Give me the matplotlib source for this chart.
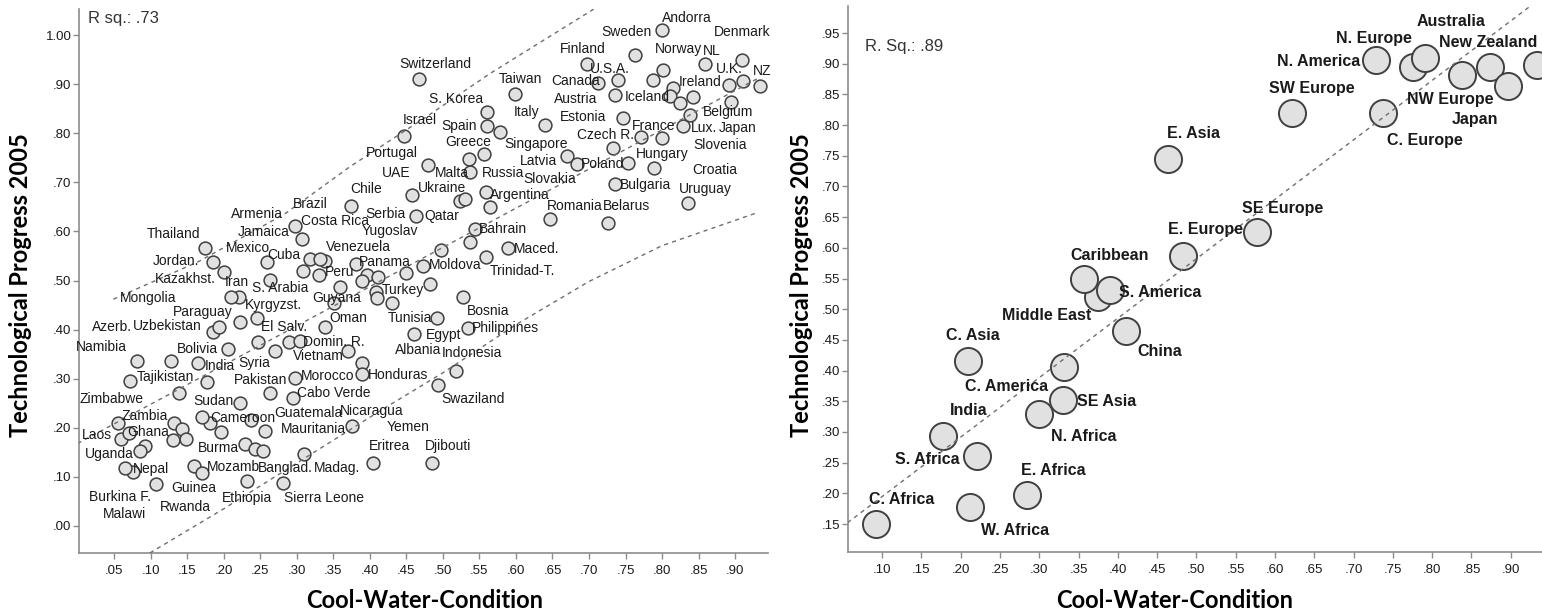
import matplotlib
matplotlib.use("Agg")
import matplotlib.pyplot as plt
from matplotlib.ticker import MultipleLocator, FuncFormatter

# ---- left panel: countries -------------------------------------------------
countries = ['Andorra', 'Sweden', 'Denmark', 'Finland', 'NL', 'Norway', 'U.S.A.', 'U.K.', 'NZ',
             'Canada', 'Taiwan', 'Ireland', 'Austria', 'Iceland', 'Italy', 'Estonia', 'Belgium',
             'Lux.', 'Japan', 'France', 'Czech R.', 'Slovenia', 'Hungary', 'Croatia', 'Latvia',
             'Poland', 'Slovakia', 'Bulgaria', 'Uruguay', 'Switzerland', 'S. Korea', 'Israel',
             'Spain', 'Singapore', 'Greece', 'Portugal', 'Malta', 'Russia', 'UAE', 'Ukraine',
             'Argentina', 'Chile', 'Romania', 'Belarus', 'Qatar', 'Serbia', 'Bahrain', 'Maced.',
             'Moldova', 'Trinidad-T.', 'Turkey', 'Yugoslav', 'Bosnia', 'Tunisia', 'Philippines',
             'Egypt', 'Albania', 'Indonesia', 'Swaziland', 'Brazil', 'Costa Rica', 'Jamaica',
             'Armenia', 'Venezuela', 'Cuba', 'Mexico', 'Panama', 'Peru', 'Thailand', 'Jordan.',
             'Kazakhst.', 'S. Arabia', 'Iran', 'Mongolia', 'Guyana', 'Kyrgyzst.', 'Paraguay',
             'Uzbekistan', 'Azerb.', 'Oman', 'El Salv.', 'Domin. R.', 'Namibia', 'Bolivia', 'India',
             'Syria', 'Vietnam', 'Tajikistan', 'Pakistan', 'Morocco', 'Honduras', 'Sudan',
             'Cabo Verde', 'Zimbabwe', 'Zambia', 'Laos', 'Ghana', 'Uganda', 'Malawi', 'Nepal',
             'Burkina F.', 'Rwanda', 'Guinea', 'Mozamb', 'Burma', 'Cameroon', 'Guatemala',
             'Mauritania', 'Nicaragua', 'Yemen', 'Eritrea', 'Djibouti', 'Banglad.', 'Madag.',
             'Ethiopia', 'Sierra Leone']
cool_water = [0.800, 0.763, 0.909, 0.697, 0.859, 0.801, 0.740, 0.891, 0.934,
              0.713, 0.599, 0.815, 0.736, 0.811, 0.640, 0.746, 0.895,
              0.829, 0.825, 0.771, 0.733, 0.838, 0.800, 0.789, 0.670,
              0.753, 0.683, 0.735, 0.835, 0.468, 0.561, 0.447,
              0.561, 0.578, 0.556, 0.479, 0.536, 0.537, 0.458, 0.524,
              0.559, 0.374, 0.647, 0.726, 0.530, 0.463, 0.544, 0.589,
              0.473, 0.559, 0.482, 0.497, 0.527, 0.492, 0.535,
              0.461, 0.430, 0.518, 0.494, 0.318, 0.298, 0.307,
              0.308, 0.339, 0.332, 0.259, 0.381, 0.331, 0.175, 0.185,
              0.201, 0.263, 0.221, 0.210, 0.359, 0.245, 0.222,
              0.186, 0.193, 0.339, 0.289, 0.305, 0.081, 0.206, 0.165,
              0.270, 0.370, 0.072, 0.298, 0.390, 0.390, 0.222,
              0.295, 0.056, 0.132, 0.060, 0.070, 0.092, 0.086, 0.076,
              0.065, 0.108, 0.160, 0.171, 0.229, 0.181, 0.238,
              0.257, 0.375, 0.243, 0.404, 0.485, 0.254, 0.310,
              0.232, 0.281]
tech_progress = [1.010, 0.959, 0.949, 0.941, 0.941, 0.929, 0.908, 0.898, 0.896,
                 0.903, 0.879, 0.893, 0.878, 0.876, 0.817, 0.830, 0.864,
                 0.815, 0.862, 0.792, 0.770, 0.837, 0.790, 0.730, 0.754,
                 0.739, 0.737, 0.697, 0.658, 0.910, 0.843, 0.794,
                 0.815, 0.802, 0.758, 0.735, 0.747, 0.720, 0.674, 0.661,
                 0.681, 0.652, 0.625, 0.618, 0.665, 0.632, 0.605, 0.566,
                 0.530, 0.548, 0.492, 0.562, 0.467, 0.423, 0.403,
                 0.391, 0.454, 0.316, 0.287, 0.543, 0.611, 0.584,
                 0.519, 0.540, 0.543, 0.537, 0.533, 0.511, 0.566, 0.538,
                 0.518, 0.501, 0.466, 0.466, 0.487, 0.423, 0.415,
                 0.395, 0.405, 0.405, 0.374, 0.377, 0.337, 0.360, 0.333,
                 0.356, 0.357, 0.295, 0.301, 0.333, 0.310, 0.250,
                 0.260, 0.209, 0.210, 0.177, 0.189, 0.163, 0.153, 0.109,
                 0.119, 0.085, 0.122, 0.107, 0.168, 0.209, 0.216,
                 0.194, 0.204, 0.156, 0.129, 0.129, 0.153, 0.147,
                 0.092, 0.087]

# countries whose label is not legible in the chart
unlabeled_x = [0.788, 0.843, 0.911, 0.565, 0.537, 0.450, 0.396, 0.411, 0.389, 0.409,
               0.410, 0.351, 0.247, 0.128, 0.177, 0.139, 0.263, 0.143, 0.130, 0.149,
               0.171, 0.196]
unlabeled_y = [0.908, 0.874, 0.907, 0.650, 0.579, 0.515, 0.511, 0.507, 0.498, 0.477,
               0.465, 0.454, 0.374, 0.337, 0.294, 0.270, 0.270, 0.197, 0.175, 0.177,
               0.223, 0.191]

# fit line and prediction bounds
fit_x = [0.0, 0.934]
fit_y = [0.168, 0.914]
upper_x = [0.049, 0.165, 0.284, 0.373, 0.478, 0.565, 0.711]
upper_y = [0.462, 0.538, 0.636, 0.732, 0.834, 0.922, 1.057]
lower_x = [0.099, 0.20, 0.30, 0.42, 0.50, 0.60, 0.70, 0.80, 0.93]
lower_y = [-0.055, 0.035, 0.128, 0.240, 0.312, 0.410, 0.498, 0.571, 0.638]

# ---- right panel: regions ---------------------------------------------------
regions = ['C. Africa', 'W. Africa', 'E. Africa', 'S. Africa', 'India', 'N. Africa', 'SE Asia',
           'C. America', 'C. Asia', 'China', 'Middle East', 'Caribbean', 'S. America',
           'E. Europe', 'SE Europe', 'E. Asia', 'SW Europe', 'C. Europe', 'N. America',
           'N. Europe', 'Australia', 'NW Europe', 'New Zealand', 'Japan', '']
region_cw = [0.092, 0.212, 0.285, 0.221, 0.177, 0.300, 0.330,
             0.331, 0.210, 0.411, 0.375, 0.357, 0.390,
             0.483, 0.577, 0.464, 0.621, 0.738, 0.728,
             0.776, 0.791, 0.838, 0.874, 0.897, 0.933]
region_tp = [0.150, 0.177, 0.197, 0.260, 0.294, 0.330, 0.352,
             0.406, 0.416, 0.465, 0.520, 0.550, 0.531,
             0.587, 0.625, 0.744, 0.820, 0.819, 0.906,
             0.895, 0.909, 0.882, 0.894, 0.864, 0.898]
reg_x = [0.056, 0.924]
reg_y = [0.152, 0.993]

# label placement (pixel offsets from the marker, y up)
label_offsets = {
    'Andorra': (25, 11.7), 'Sweden': (-8.3, 22.7), 'Denmark': (0, 27.7), 'Finland': (-4, 15),
    'NL': (6.7, 13), 'Norway': (15.6, 21), 'U.S.A.': (-8.3, 10.7), 'U.K.': (1, 15.7),
    'NZ': (1.7, 15), 'Canada': (-23.3, 2), 'Taiwan': (5, 15), 'Ireland': (26.7, 5.6),
    'Austria': (-40, -4), 'Iceland': (-23.3, -0.7), 'Italy': (-18.3, 13.3),
    'Estonia': (-40, 1.6), 'Belgium': (-3.4, -10), 'Lux.': (20.7, -2), 'Japan': (57.5, -25),
    'France': (12.3, 11.6), 'Czech R.': (-7.3, 12.7), 'Slovenia': (30, -30.3),
    'Hungary': (0, -16), 'Croatia': (61, -2.3), 'Latvia': (-28.4, -4.7),
    'Poland': (-25.6, -0.7), 'Slovakia': (-26.7, -15), 'Bulgaria': (30.7, -1.7),
    'Uruguay': (17.7, 13.7), 'Switzerland': (15.7, 15.3), 'S. Korea': (-31.3, 13.3),
    'Israel': (16, 16), 'Spain': (-28.3, 0), 'Singapore': (36.7, -12), 'Greece': (-15.7, 12.3),
    'Portugal': (-35.7, 12), 'Malta': (-17.6, -13.4), 'Russia': (32.7, -0.6),
    'UAE': (-15.6, 21.7), 'Ukraine': (-18.3, 13.4), 'Argentina': (34, -3.3),
    'Chile': (15.7, 17), 'Romania': (24.2, 13.6), 'Belarus': (18.1, 17),
    'Qatar': (-23.3, -16.4), 'Serbia': (-30, 1.7), 'Bahrain': (27.7, 0), 'Maced.': (29, -0.7),
    'Moldova': (31.7, 0.3), 'Trinidad-T.': (36.7, -14), 'Turkey': (-26.7, -5.7),
    'Yugoslav': (-50.7, 19), 'Bosnia': (25.6, -14), 'Tunisia': (-27.4, 0),
    'Philippines': (36.7, 0), 'Egypt': (29, -1), 'Albania': (26.6, -47.4),
    'Indonesia': (15.7, 17.4), 'Swaziland': (35, -14.3), 'Brazil': (0, 55.3),
    'Costa Rica': (40, 5), 'Jamaica': (-38.4, 7.6), 'Armenia': (-46, 57),
    'Venezuela': (33.3, 14.3), 'Cuba': (-36.7, 4.3), 'Mexico': (-18.4, 14), 'Panama': (29, 2.3),
    'Peru': (20.7, 3.3), 'Thailand': (-31.7, 14), 'Jordan.': (-36.7, 1),
    'Kazakhst.': (-39.3, -7.3), 'S. Arabia': (10, -8.3), 'Iran': (-2, 15.6),
    'Mongolia': (-82.7, -0.4), 'Guyana': (-3.3, -11), 'Kyrgyzst.': (16.6, 13.3),
    'Paraguay': (-36.7, 10), 'Uzbekistan': (-46.3, 5.6), 'Azerb.': (-106.3, 0.6),
    'Oman': (23.3, 9), 'El Salv.': (-5, 15.6), 'Domin. R.': (33.3, -0.7),
    'Namibia': (-35, 14), 'Bolivia': (-31, 0), 'India': (21.7, -3), 'Syria': (-21, -11.3),
    'Vietnam': (-29.4, -5), 'Tajikistan': (35, 4.3), 'Pakistan': (-35, -1.7),
    'Morocco': (-34.4, -13.4), 'Honduras': (35.3, -1.7), 'Sudan': (-26.7, 2.3),
    'Cabo Verde': (40.6, 5), 'Zimbabwe': (-6.6, 24), 'Zambia': (-29, 7), 'Laos': (-24, 3.6),
    'Ghana': (20, 1), 'Uganda': (-35.7, -8), 'Malawi': (-16, -63.6), 'Nepal': (18.4, 3),
    'Burkina F.': (-5, -29), 'Rwanda': (29.3, -22.4), 'Guinea': (-0.3, -22.3),
    'Mozamb': (31, 6), 'Burma': (-26.7, -4), 'Cameroon': (33.3, 5), 'Guatemala': (56.6, 6.7),
    'Mauritania': (48.3, 1.4), 'Nicaragua': (20.3, 15), 'Yemen': (153.3, 22.6),
    'Eritrea': (16.3, 16.7), 'Djibouti': (16.6, 16.7), 'Banglad.': (21.7, -17.6),
    'Madag.': (32.7, -14.3), 'Ethiopia': (0, -17.3), 'Sierra Leone': (41.3, -15),
}
region_offsets = {
    'C. Africa': (25.7, 25), 'W. Africa': (45, -22.7), 'E. Africa': (26.3, 25),
    'S. Africa': (-49.6, -3.3), 'India': (26, 24.7), 'N. Africa': (44.7, -22.7),
    'SE Asia': (44, -1.7), 'C. America': (-57.3, -19.3), 'C. Asia': (4.4, 25),
    'China': (33.3, -21), 'Middle East': (-51.6, -18.3), 'Caribbean': (26, 23.3),
    'S. America': (50, -2), 'E. Europe': (22.3, 26), 'SE Europe': (25.4, 24.4),
    'E. Asia': (25, 26), 'SW Europe': (20, 24.4), 'C. Europe': (41.7, -27.4),
    'N. America': (-56.7, -1.7), 'N. Europe': (-39, 28.4), 'Australia': (26.4, 36.6),
    'NW Europe': (-11.7, -24.3), 'New Zealand': (-2.4, 24.6), 'Japan': (-33.3, -34),
}

W, H = 1542, 615
TEXT = '#1a1a1a'
SPINE = '#8c8c8c'
FACE = '#e1e1e1'
EDGE = '#404040'
DASH = '#6e6e6e'

plt.rcParams['font.family'] = ['Liberation Sans', 'DejaVu Sans']


def fmt(v, pos):
    s = '%.2f' % v
    if s.startswith('0.'):
        s = s[1:]
    if s == '-.00' or s == '-0.00':
        s = '.00'
    return s


def style_axes(ax):
    for side in ['top', 'right']:
        ax.spines[side].set_visible(False)
    for side in ['left', 'bottom']:
        ax.spines[side].set_color(SPINE)
        ax.spines[side].set_linewidth(1.2)
    ax.tick_params(axis='both', colors=SPINE, labelcolor=TEXT, labelsize=9.5,
                   length=4.5, width=1.0, direction='out')
    ax.tick_params(axis='y', pad=1)
    ax.tick_params(axis='x', pad=4)
    ax.xaxis.set_major_formatter(FuncFormatter(fmt))
    ax.yaxis.set_major_formatter(FuncFormatter(fmt))


fig = plt.figure(figsize=(W / 100, H / 100), dpi=100)

# left axes
ax1 = fig.add_axes([79 / W, 1 - 553 / H, (768 - 79) / W, (553 - 9) / H])
ax1.set_xlim(0.002, 0.945)
ax1.set_ylim(-0.055, 1.053)
ax1.xaxis.set_major_locator(MultipleLocator(0.05))
ax1.yaxis.set_major_locator(MultipleLocator(0.10))
style_axes(ax1)

ax1.scatter(cool_water, tech_progress, s=85, facecolor=FACE, edgecolor=EDGE,
            linewidth=1.1, zorder=3, clip_on=False)
ax1.scatter(unlabeled_x, unlabeled_y, s=85, facecolor=FACE, edgecolor=EDGE,
            linewidth=1.1, zorder=3, clip_on=False)
for name, x, y in zip(countries, cool_water, tech_progress):
    dx, dy = label_offsets[name]
    ax1.annotate(name, (x, y), xytext=(dx, dy), textcoords='offset pixels',
                 ha='center', va='center', fontsize=10, color=TEXT, zorder=5,
                 annotation_clip=False)

dash_kw = dict(color=DASH, linewidth=1.0, dashes=(3, 3), zorder=4)
ax1.plot(fit_x, fit_y, **dash_kw)
ax1.plot(upper_x, upper_y, **dash_kw)
ax1.plot(lower_x, lower_y, **dash_kw)

# right axes
ax2 = fig.add_axes([848 / W, 1 - 552 / H, (W - 848) / W, (552 - 6) / H])
ax2.set_xlim(0.0567, 0.9397)
ax2.set_ylim(0.1044, 0.994)
ax2.xaxis.set_major_locator(MultipleLocator(0.05))
ax2.yaxis.set_major_locator(MultipleLocator(0.05))
style_axes(ax2)

ax2.scatter(region_cw, region_tp, s=380, facecolor=FACE, edgecolor=EDGE,
            linewidth=1.4, zorder=3, clip_on=True)
for name, x, y in zip(regions, region_cw, region_tp):
    if not name:
        continue
    dx, dy = region_offsets[name]
    ax2.annotate(name, (x, y), xytext=(dx, dy), textcoords='offset pixels',
                 ha='center', va='center', fontsize=11.5, fontweight='bold',
                 color=TEXT, zorder=5, annotation_clip=False)
ax2.plot(reg_x, reg_y, **dash_kw)

# R squared
fig.text(88 / W, 1 - 19 / H, 'R sq.: .73', ha='left', va='center', fontsize=12, color='#333333')
fig.text(865 / W, 1 - 47 / H, 'R. Sq.: .89', ha='left', va='center', fontsize=12, color='#333333')

# axis titles
title_kw = dict(fontsize=17, fontweight='bold', family='Lato', color='black')
fig.text(424.5 / W, 1 - 608 / H, 'Cool-Water-Condition', ha='center', va='baseline', **title_kw)
fig.text(1175 / W, 1 - 608 / H, 'Cool-Water-Condition', ha='center', va='baseline', **title_kw)
fig.text(21 / W, 1 - 285 / H, 'Technological Progress 2005', rotation=90,
         ha='center', va='center', **title_kw)
fig.text(801 / W, 1 - 285 / H, 'Technological Progress 2005', rotation=90,
         ha='center', va='center', **title_kw)

fig.savefig('out.png', dpi=100, facecolor='white')
